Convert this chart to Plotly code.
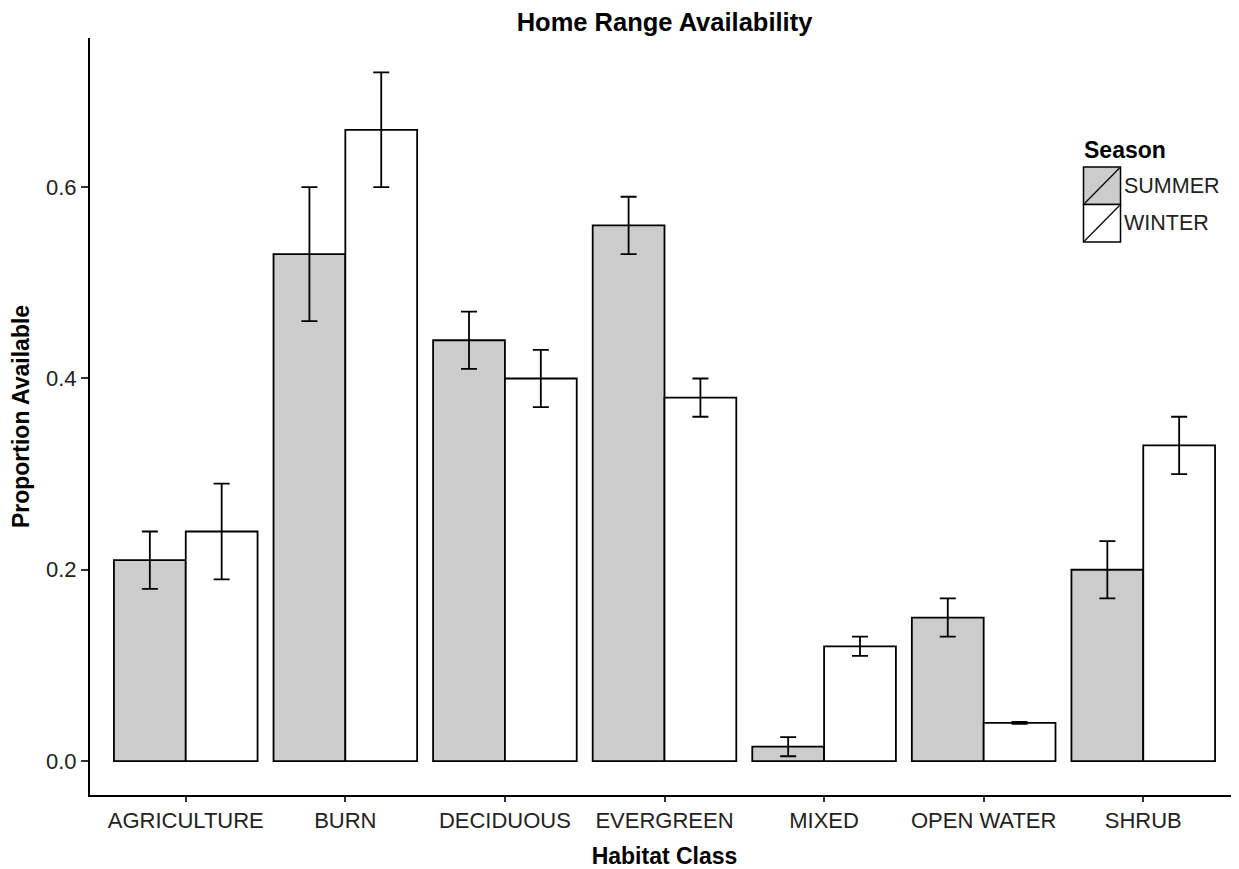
import plotly.graph_objects as go

categories = ["AGRICULTURE", "BURN", "DECIDUOUS", "EVERGREEN", "MIXED", "OPEN WATER", "SHRUB"]
summer_vals = [0.21, 0.53, 0.44, 0.56, 0.015, 0.15, 0.20]
summer_lo = [0.18, 0.46, 0.41, 0.53, 0.005, 0.13, 0.17]
summer_hi = [0.24, 0.60, 0.47, 0.59, 0.025, 0.17, 0.23]
winter_vals = [0.24, 0.66, 0.40, 0.38, 0.12, 0.04, 0.33]
winter_lo = [0.19, 0.60, 0.37, 0.36, 0.11, 0.039, 0.30]
winter_hi = [0.29, 0.72, 0.43, 0.40, 0.13, 0.041, 0.36]
y_ticks = [0.0, 0.2, 0.4, 0.6]
y_tick_text = ["0.0", "0.2", "0.4", "0.6"]

OFF = 8  # page body margin
SW, SH = 1239, 869
W, H = SW - OFF, SH - OFF
L, R, T, B = 90 - OFF, 0, 38 - OFF, 74
FONT = "Liberation Sans, Arial, sans-serif"

def err(vals, lo, hi):
    return dict(type="data", symmetric=False,
                array=[h - v for v, h in zip(vals, hi)],
                arrayminus=[v - l for v, l in zip(vals, lo)],
                color="black", thickness=1.8, width=8)

fig = go.Figure()
fig.add_trace(go.Bar(x=categories, y=summer_vals, name="SUMMER",
                     marker=dict(color="#CCCCCC", line=dict(color="black", width=1.8)),
                     error_y=err(summer_vals, summer_lo, summer_hi), showlegend=False))
fig.add_trace(go.Bar(x=categories, y=winter_vals, name="WINTER",
                     marker=dict(color="white", line=dict(color="black", width=1.8)),
                     error_y=err(winter_vals, winter_lo, winter_hi), showlegend=False))

# custom legend (screen pixel -> paper)
pw, ph = W - L - R, H - T - B
def px(x):
    return (x - OFF - L) / pw
def py(y):
    return (H - B - (y - OFF)) / ph

shapes = []
keys = [("#CCCCCC", 167, "SUMMER"), ("white", 204.5, "WINTER")]
annotations = []
for fill, top, label in keys:
    x0, x1, y0, y1 = 1083.5, 1120.5, top, top + 37.5
    shapes.append(dict(type="rect", xref="paper", yref="paper",
                       x0=px(x0), x1=px(x1), y0=py(y1), y1=py(y0),
                       fillcolor=fill, line=dict(color="black", width=1.5), layer="above"))
    shapes.append(dict(type="line", xref="paper", yref="paper",
                       x0=px(x0 + 1), x1=px(x1 - 1), y0=py(y1 - 1), y1=py(y0 + 1),
                       line=dict(color="black", width=1.2), layer="above"))
    annotations.append(dict(xref="paper", yref="paper", x=px(1122), y=py((y0 + y1) / 2),
                            text=label, showarrow=False, xanchor="left", yanchor="middle",
                            font=dict(family=FONT, size=21.5, color="#222222")))
annotations.append(dict(xref="paper", yref="paper", x=px(1082), y=py(150),
                        text="<b>Season</b>", showarrow=False, xanchor="left", yanchor="middle",
                        font=dict(family=FONT, size=23, color="black")))

fig.update_layout(
    width=W, height=H,
    margin=dict(l=L, r=R, t=T, b=B, pad=0),
    paper_bgcolor="white", plot_bgcolor="white",
    barmode="group", bargap=0.1, bargroupgap=0,
    font=dict(family=FONT, color="black"),
    title=dict(text="<b>Home Range Availability</b>", x=0.5, xref="paper",
               y=1 - (22 - OFF) / H, yref="container", xanchor="center", yanchor="middle",
               font=dict(family=FONT, size=25.5, color="black")),
    xaxis=dict(range=[-0.6, 6.6], showline=True, linecolor="black", linewidth=2,
               ticks="outside", ticklen=5, tickwidth=1.5, tickcolor="#333333",
               showgrid=False, zeroline=False,
               tickfont=dict(family=FONT, size=22, color="#222222"),
               title=dict(text="<b>Habitat Class</b>", standoff=18,
                          font=dict(family=FONT, size=23, color="black"))),
    yaxis=dict(range=[-0.0355, 0.756], showline=True, linecolor="black", linewidth=2,
               ticks="outside", ticklen=7, tickwidth=1.5, tickcolor="#333333",
               tickvals=y_ticks, ticktext=y_tick_text,
               showgrid=False, zeroline=False,
               tickfont=dict(family=FONT, size=22, color="#222222"),
               title=dict(text="<b>Proportion Available</b>", standoff=10,
                          font=dict(family=FONT, size=23, color="black"))),
    shapes=shapes, annotations=annotations,
)

fig.write_html("out.html")
